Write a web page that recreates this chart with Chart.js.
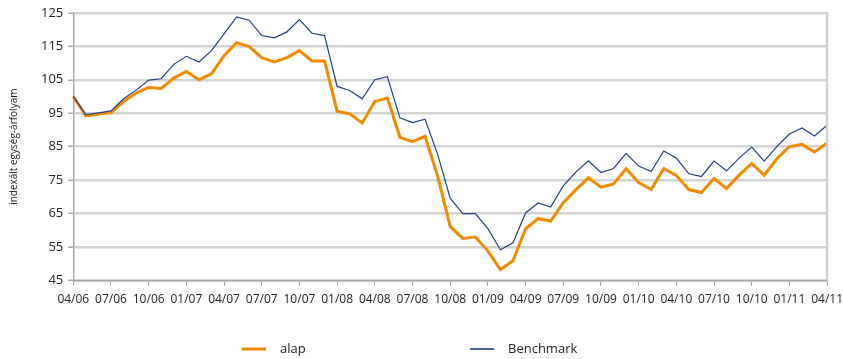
<!DOCTYPE html>
<html lang="hu">
<head>
<meta charset="utf-8">
<title>alap vs Benchmark</title>
<script src="https://cdn.jsdelivr.net/npm/chart.js@4/dist/chart.umd.min.js"></script>
<style>
    html, body { margin: 0; padding: 0; background: #fff; overflow: hidden; }
    #wrap { width: 850px; height: 359px; position: relative; }
</style>
</head>
<body>
<div id="wrap"><canvas id="fundChart"></canvas></div>
<script>
// havi adatok 2006/04 - 2011/04, indexálva (2006/04 = 100)
const months = [
    '04/06', '05/06', '06/06', '07/06', '08/06', '09/06', '10/06', '11/06', '12/06',
    '01/07', '02/07', '03/07', '04/07', '05/07', '06/07', '07/07', '08/07', '09/07',
    '10/07', '11/07', '12/07', '01/08', '02/08', '03/08', '04/08', '05/08', '06/08',
    '07/08', '08/08', '09/08', '10/08', '11/08', '12/08', '01/09', '02/09', '03/09',
    '04/09', '05/09', '06/09', '07/09', '08/09', '09/09', '10/09', '11/09', '12/09',
    '01/10', '02/10', '03/10', '04/10', '05/10', '06/10', '07/10', '08/10', '09/10',
    '10/10', '11/10', '12/10', '01/11', '02/11', '03/11', '04/11'
];

const alap = [
    100, 94.2, 94.8, 95.2, 98.5, 101, 102.7, 102.4, 105.5,
    107.5, 105, 106.8, 112.2, 116.1, 114.9, 111.6, 110.3, 111.6,
    113.7, 110.6, 110.6, 95.6, 94.8, 92.1, 98.5, 99.5, 87.8,
    86.5, 88.1, 76.2, 61.2, 57.6, 58, 53.9, 48.3, 50.9,
    60.5, 63.5, 62.8, 68.3, 72.1, 75.7, 72.9, 73.9, 78.4,
    74.3, 72.2, 78.5, 76.4, 72.2, 71.3, 75.5, 72.5, 76.5,
    80, 76.5, 81.4, 85, 85.7, 83.4, 86.1
];

const benchmark = [
    100, 94.6, 95.1, 95.7, 99.3, 101.9, 104.9, 105.3, 109.6,
    112, 110.3, 113.7, 118.7, 123.8, 122.8, 118.2, 117.5, 119.3,
    123, 118.9, 118.2, 103, 101.8, 99.3, 105, 105.9, 93.6,
    92.2, 93.2, 82.7, 69.6, 65, 65, 60.5, 54.2, 56.3,
    65.2, 68.2, 67, 73.3, 77.4, 80.8, 77.3, 78.5, 83,
    79.2, 77.6, 83.7, 81.6, 76.9, 76.1, 80.7, 77.8, 81.6,
    84.9, 80.7, 85, 88.8, 90.6, 88.2, 91.4
];

const yTicks = [45, 55, 65, 75, 85, 95, 105, 115, 125];

const orange = '#f08a00';
const navy = '#23407f';
const fontFamily = '"Open Sans", "DejaVu Sans", sans-serif';

// jobb oldali keret a rajzterület mellett
const frameRight = {
    id: 'frameRight',
    afterDraw(chart) {
        const { ctx, chartArea } = chart;
        ctx.save();
        ctx.strokeStyle = '#d0d0d0';
        ctx.lineWidth = 2.5;
        ctx.beginPath();
        ctx.moveTo(chartArea.right, chartArea.top - 1);
        ctx.lineTo(chartArea.right, chartArea.bottom);
        ctx.stroke();
        ctx.restore();
    }
};

// jelmagyarázat az ábra alján, szélesen elosztva
const wideLegend = {
    id: 'wideLegend',
    afterDraw(chart) {
        const { ctx } = chart;
        const y = chart.height - 10;
        const items = [
            { x: 242, label: chart.data.datasets[0].label, color: orange, width: 3 },
            { x: 470, label: chart.data.datasets[1].label, color: '#4f6796', width: 2 }
        ];
        ctx.save();
        ctx.font = '13px ' + fontFamily;
        ctx.textBaseline = 'middle';
        items.forEach(item => {
            ctx.strokeStyle = item.color;
            ctx.lineWidth = item.width;
            ctx.beginPath();
            ctx.moveTo(item.x, y);
            ctx.lineTo(item.x + 24, y);
            ctx.stroke();
            ctx.fillStyle = '#222';
            ctx.fillText(item.label, item.x + 38, y);
        });
        ctx.restore();
    }
};

new Chart(document.getElementById('fundChart'), {
    type: 'line',
    data: {
        labels: months,
        datasets: [
            {
                label: 'alap',
                data: alap,
                borderColor: orange,
                borderWidth: 3,
                pointRadius: 0,
                tension: 0,
                order: 1
            },
            {
                label: 'Benchmark',
                data: benchmark,
                borderColor: navy,
                borderWidth: 1.2,
                pointRadius: 0,
                tension: 0,
                order: 0
            }
        ]
    },
    options: {
        responsive: true,
        maintainAspectRatio: false,
        animation: false,
        layout: { padding: { top: 12, right: 0, left: 8, bottom: 45 } },
        plugins: {
            legend: { display: false },
            tooltip: { enabled: false }
        },
        scales: {
            x: {
                offset: false,
                grid: {
                    drawOnChartArea: false,
                    drawTicks: true,
                    tickLength: 5,
                    color: '#a6a6a6'
                },
                border: { color: '#a6a6a6', width: 1.5 },
                ticks: {
                    autoSkip: false,
                    maxRotation: 0,
                    padding: 7,
                    color: '#222',
                    font: { size: 12, family: fontFamily },
                    callback: function (value, index) {
                        return index % 3 === 0 ? months[index] : null;
                    }
                }
            },
            y: {
                min: yTicks[0],
                max: yTicks[yTicks.length - 1],
                afterBuildTicks: axis => {
                    axis.ticks = yTicks.map(v => ({ value: v }));
                },
                grid: {
                    color: '#d3d3d3',
                    lineWidth: 2.5,
                    tickLength: 5,
                    tickColor: '#a6a6a6',
                    tickWidth: 1.5
                },
                border: { color: '#a6a6a6', width: 1.5 },
                ticks: {
                    padding: 5,
                    color: '#222',
                    font: { size: 13, family: fontFamily }
                },
                title: {
                    display: true,
                    text: 'indexált egység-árfolyam',
                    color: '#222',
                    padding: { top: 0, bottom: 16 },
                    font: { size: 10, family: fontFamily }
                }
            }
        }
    },
    plugins: [frameRight, wideLegend]
});
</script>
</body>
</html>
